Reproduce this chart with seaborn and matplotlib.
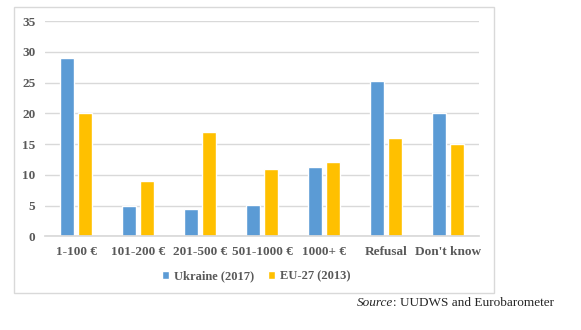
import matplotlib
matplotlib.use("Agg")
import matplotlib.pyplot as plt
import seaborn as sns
import pandas as pd
from matplotlib.patches import Rectangle

categories = ["1-100 €", "101-200 €", "201-500 €", "501-1000 €", "1000+ €", "Refusal", "Don't know"]
ukraine_2017 = [29, 5, 4.4, 5.1, 11.3, 25.2, 20]
eu27_2013 = [20, 9, 17, 11, 12, 16, 15]
series_names = ["Ukraine (2017)", "EU-27 (2013)"]
y_ticks = [0, 5, 10, 15, 20, 25, 30, 35]

df = pd.DataFrame({
    "category": categories * 2,
    "value": ukraine_2017 + eu27_2013,
    "series": [series_names[0]] * len(categories) + [series_names[1]] * len(categories),
})

sns.set_theme(style="white")
plt.rcParams["font.family"] = ["Liberation Serif", "DejaVu Serif"]

W, H = 581, 330
fig = plt.figure(figsize=(W / 100, H / 100), dpi=100)
ax = fig.add_axes([45 / W, 1 - 236.3 / H, (479 - 45) / W, (236.3 - 21) / H])

palette = {series_names[0]: "#5B9BD5", series_names[1]: "#FFC000"}
sns.barplot(data=df, x="category", y="value", hue="series", order=categories,
            hue_order=series_names, palette=palette, width=0.58, gap=0.22,
            saturation=1, ax=ax, legend=True)

ax.set_ylim(0, 35)
ax.set_yticks(y_ticks)
ax.set_xlim(-0.5, len(categories) - 0.5)
ax.yaxis.grid(True, color="#d9d9d9", linewidth=1)
ax.set_axisbelow(True)
for s in ["top", "right", "left"]:
    ax.spines[s].set_visible(False)
ax.spines["bottom"].set_color("#d9d9d9")
ax.set_xlabel("")
ax.set_ylabel("")
ax.tick_params(axis="both", length=0, colors="#595959", labelsize=9.5)
ax.tick_params(axis="x", pad=7)
ax.tick_params(axis="y", pad=7)
for lab in ax.get_xticklabels() + ax.get_yticklabels():
    lab.set_fontweight("bold")

ax.legend_.remove()
leg = fig.legend(*ax.get_legend_handles_labels(), loc="center",
                 bbox_to_anchor=(256 / W, 1 - 276 / H), ncol=2, frameon=False,
                 handlelength=0.6, handleheight=0.6, handletextpad=0.35,
                 columnspacing=1.1, prop={"weight": "bold", "size": 9})
for t in leg.get_texts():
    t.set_color("#595959")

# outer chart frame
fig.patches.append(Rectangle((14 / W, 1 - 293 / H), (494 - 14) / W, (293 - 7) / H,
                             transform=fig.transFigure, fill=False,
                             edgecolor="#d9d9d9", linewidth=1))

# source note: italic "Source" followed by the plain remainder
src = fig.text(357 / W, 1 - 303 / H, "Source", style="italic", fontsize=9.5,
               va="center", ha="left")
ax.annotate(": UUDWS and Eurobarometer", xy=(1, 0.5), xycoords=src,
            va="center", ha="left", fontsize=9.5, annotation_clip=False)

fig.savefig("out.png", dpi=100)
